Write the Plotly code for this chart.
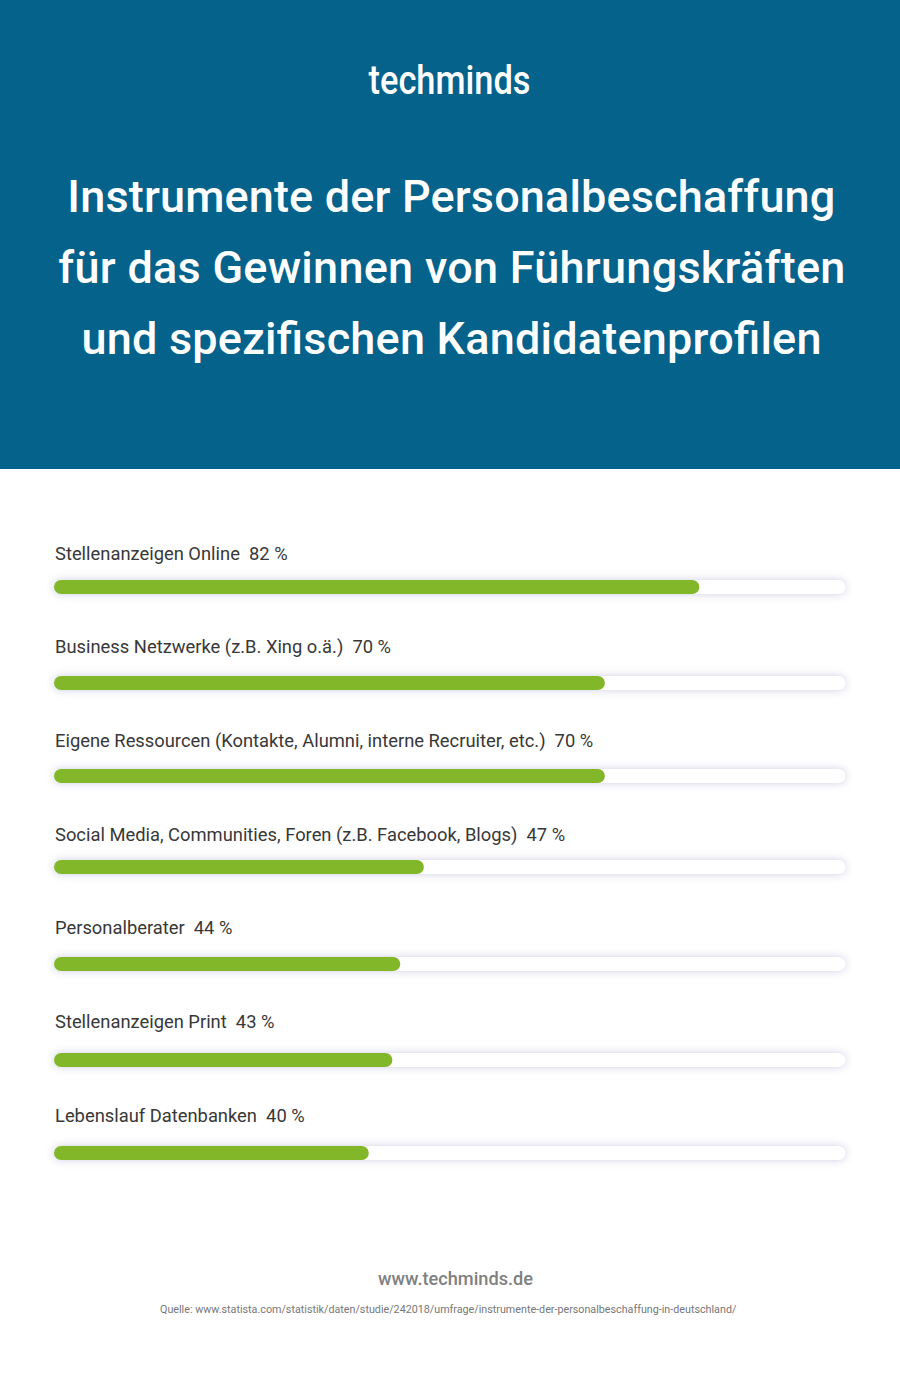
import plotly.graph_objects as go

categories = ["Stellenanzeigen Online", "Business Netzwerke (z.B. Xing o.ä.)",
              "Eigene Ressourcen (Kontakte, Alumni, interne Recruiter, etc.)",
              "Social Media, Communities, Foren (z.B. Facebook, Blogs)",
              "Personalberater", "Stellenanzeigen Print", "Lebenslauf Datenbanken"]
values = [82, 70, 70, 47, 44, 43, 40]
title_lines = ["Instrumente der Personalbeschaffung",
               "für das Gewinnen von Führungskräften",
               "und spezifischen Kandidatenprofilen"]
logo_text = "techminds"
site_text = "www.techminds.de"
source_text = "Quelle: www.statista.com/statistik/daten/studie/242018/umfrage/instrumente-der-personalbeschaffung-in-deutschland/"

# layout constants (page pixels)
W, H = 900, 1380
PX_PER_UNIT = 7.87
LEFT, RIGHT = 54, 845.5
BAR_Y = [587, 683, 776, 867, 964, 1060, 1153]
LABEL_Y = [553.5, 646.5, 740.5, 834.5, 927.5, 1021.5, 1115.5]
BAR_H = 14
TITLE_Y = [196.5, 267.5, 338.5]
TITLE_PX = [768, 787, 740]
HEADER_H = 469
BLUE = "#05628b"
GREEN = "#83b72a"
track_end = (RIGHT - LEFT) / PX_PER_UNIT
xrange = [-LEFT / PX_PER_UNIT, (W - LEFT) / PX_PER_UNIT]

fig = go.Figure()


def rounded(vals, color, name):
    """Two overlapping halves, so that both ends get a round corner."""
    fig.add_bar(orientation="h", y=BAR_Y, base=[v * 0.4 for v in vals], x=[v * 0.6 for v in vals],
                width=BAR_H, marker=dict(color=color, line=dict(width=0), cornerradius=7),
                hoverinfo="skip", name=name, showlegend=False)
    fig.add_bar(orientation="h", y=BAR_Y, base=[v * 0.6 for v in vals], x=[-v * 0.6 for v in vals],
                width=BAR_H, marker=dict(color=color, line=dict(width=0), cornerradius=7),
                hoverinfo="skip", name=name, showlegend=False)


rounded([track_end] * len(values), "#ffffff", "Skala")
rounded(values, GREEN, "Anteil")

ann = []
for c, v, y in zip(categories, values, LABEL_Y):
    ann.append(dict(x=0, y=y, xref="x", yref="y", xanchor="left", yanchor="middle", showarrow=False, xshift=-1.3,
                    text=f"{c}\u00a0\u00a0{v}\u00a0%", font=dict(family="Roboto", size=18.35, color="#383838")))
for t, y in zip(title_lines, TITLE_Y):
    ann.append(dict(x=451.5 / W, y=y, xref="paper", yref="y", xanchor="center", yanchor="middle", showarrow=False,
                    text=t, font=dict(family="Roboto", size=45, color="#ffffff", weight=500)))
ann.append(dict(x=449 / W, y=79.5, xref="paper", yref="y", xanchor="center", yanchor="middle", showarrow=False,
                text=logo_text, font=dict(family="Roboto", size=41, color="#ffffff", weight=500)))
ann.append(dict(x=455 / W, y=1278.5, xref="paper", yref="y", xanchor="center", yanchor="middle", showarrow=False,
                text=site_text, font=dict(family="Roboto", size=18.2, color="#808080", weight=500)))
ann.append(dict(x=448 / W, y=1309, xref="paper", yref="y", xanchor="center", yanchor="middle", showarrow=False,
                text=source_text, font=dict(family="Roboto", size=10.74, color="#777777")))

fig.update_layout(
    width=W, height=H, autosize=False, margin=dict(l=0, r=0, t=0, b=0),
    paper_bgcolor="#ffffff", plot_bgcolor="rgba(0,0,0,0)", barmode="overlay", showlegend=False,
    xaxis=dict(range=xrange, domain=[0, 1], visible=False, fixedrange=True),
    yaxis=dict(range=[H, 0], domain=[0, 1], visible=False, fixedrange=True),
    annotations=ann,
    shapes=[dict(type="rect", xref="paper", yref="y", x0=0, x1=1, y0=0, y1=HEADER_H,
                 fillcolor=BLUE, line=dict(width=0), layer="below")],
)
fits = {t: (px, "spacing") for t, px in zip(title_lines, TITLE_PX)}
fits[logo_text] = (162, "spacingAndGlyphs")
post = """
var fits = %s;
document.documentElement.style.overflow='hidden';
document.body.style.margin='0';
document.querySelectorAll('.barlayer').forEach(function(g){
  g.style.filter='drop-shadow(0 0 4px rgba(90,90,170,0.3))';
});
document.querySelectorAll('text.annotation-text').forEach(function(t){
  var f = fits[t.textContent];
  if(f){
    t.setAttribute('textLength', f[0]);
    t.setAttribute('lengthAdjust', f[1]);
  }
});
""" % __import__("json").dumps(fits)
fig.write_html("out.html", post_script=post, config={"displayModeBar": False})
